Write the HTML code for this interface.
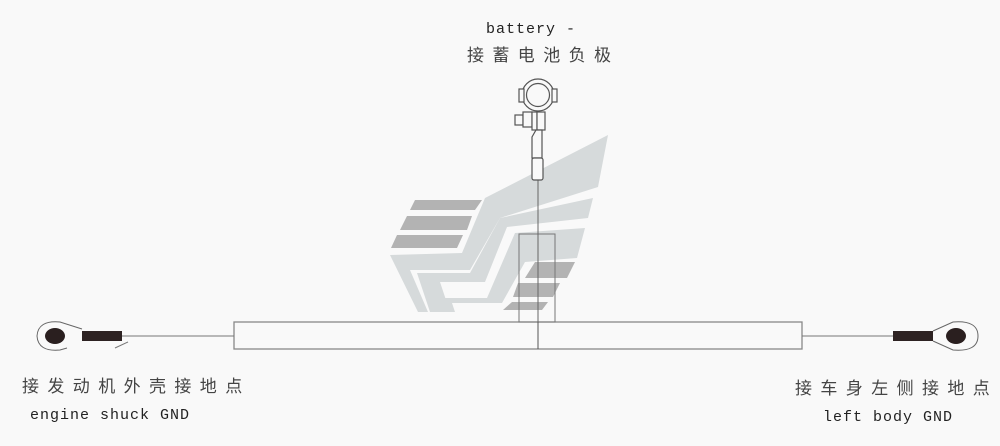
<!DOCTYPE html>
<html><head><meta charset="utf-8"><style>
html,body{margin:0;padding:0;background:#f9f9f9;}
svg{display:block}
.m{font-family:"Liberation Mono","DejaVu Sans Mono",monospace;font-size:15px;fill:#222;letter-spacing:1px}
.c{font-family:"Liberation Sans","Noto Sans CJK SC",sans-serif;font-size:17px;fill:#444;letter-spacing:8.4px}
</style></head><body>
<svg width="1000" height="446" viewBox="0 0 1000 446" xmlns="http://www.w3.org/2000/svg">
<rect width="1000" height="446" fill="#f9f9f9"/>
<g fill="#d6dadb">
<polygon points="608,135 598,187 500,218 470,270 410,270 428,312 418,312 390,255 462,253 485,198"/>
<polygon points="593,198 588,218 507,227 485,282 440,282 450,312 430,312 417,273 470,273 500,218"/>
<polygon points="585,228 577,258 525,262 502,303 452,303 455,312 447,312 443,298 487,298 515,233"/>
</g>
<g fill="#b3b3b3">
<polygon points="415,200 482,200 475,210 410,210"/>
<polygon points="407,216 472,216 467,230 400,230"/>
<polygon points="397,235 463,235 457,248 391,248"/>
<polygon points="535,262 575,262 567,278 525,278"/>
<polygon points="518,283 560,283 553,297 513,297"/>
<polygon points="512,302 548,302 542,310 503,310"/>
</g>
<rect x="234" y="322" width="568" height="27" fill="none" stroke="#888" stroke-width="1.3"/>
<rect x="519" y="234" width="36" height="88" fill="none" stroke="#777" stroke-width="1"/>
<line x1="538" y1="180" x2="538" y2="322" stroke="#666" stroke-width="1"/>
<line x1="538" y1="322" x2="538" y2="349" stroke="#555" stroke-width="1"/>
<line x1="122" y1="336" x2="234" y2="336" stroke="#777" stroke-width="1"/>
<line x1="802" y1="336" x2="893" y2="336" stroke="#777" stroke-width="1"/>
<path d="M82,329 L60,322 Q38,320 37,336 Q38,352 60,350 L67,348" fill="none" stroke="#666" stroke-width="1"/>
<ellipse cx="55" cy="336" rx="10" ry="8" fill="#2a1f1f"/>
<rect x="82" y="331" width="40" height="10" fill="#2d2222"/>
<line x1="115" y1="348" x2="128" y2="342" stroke="#777" stroke-width="1"/>
<path d="M933,331 L953,322 Q978,320 978,336 Q978,352 953,350 L933,341" fill="none" stroke="#666" stroke-width="1"/>
<ellipse cx="956" cy="336" rx="10" ry="8" fill="#2a1f1f"/>
<rect x="893" y="331" width="40" height="10" fill="#2d2222"/>
<g fill="#f9f9f9" stroke="#555" stroke-width="1.2">
<circle cx="538" cy="95" r="16"/>
<circle cx="538" cy="95" r="11.5"/>
<rect x="519" y="89" width="5" height="13"/>
<rect x="552" y="89" width="5" height="13"/>
<rect x="515" y="115" width="8" height="10"/>
<rect x="523" y="112" width="9" height="15"/>
<rect x="532" y="112" width="5" height="18"/>
<rect x="537" y="112" width="8" height="18"/>
<path d="M536,130 L542,130 L542,158 L532,158 L532,137 Z"/>
<rect x="532" y="158" width="11" height="22" rx="2"/>
</g>
<text class="m" x="486" y="33">battery -</text>
<text class="c" x="467" y="61">接蓄电池负极</text>
<text class="c" x="22" y="392">接发动机外壳接地点</text>
<text class="m" x="30" y="419">engine shuck GND</text>
<text class="c" x="795" y="394">接车身左侧接地点</text>
<text class="m" x="823" y="421">left body GND</text>
</svg>
</body></html>
